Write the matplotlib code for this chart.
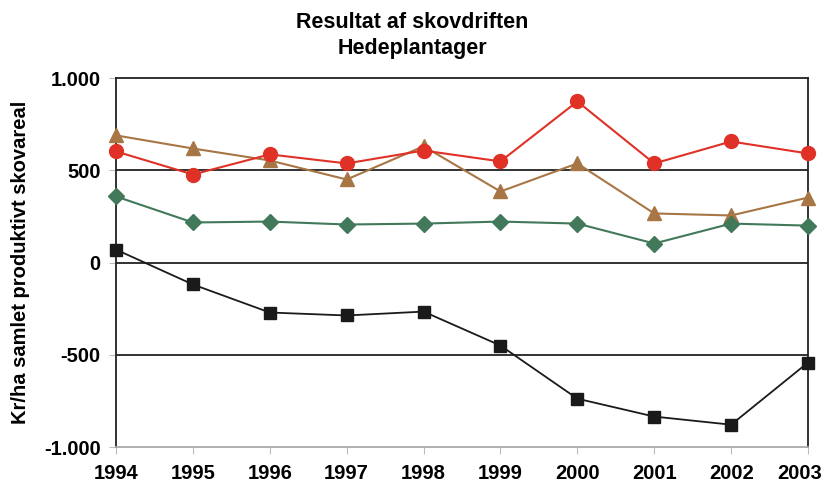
import matplotlib
matplotlib.use("Agg")
import matplotlib.pyplot as plt
import matplotlib.transforms as mtransforms
from matplotlib.ticker import FuncFormatter

years = [1994, 1995, 1996, 1997, 1998, 1999, 2000, 2001, 2002, 2003]
red_vals = [602, 477, 586, 537, 607, 548, 873, 537, 656, 591]
brown_vals = [689, 618, 553, 450, 630, 385, 537, 266, 255, 352]
green_vals = [358, 217, 222, 206, 211, 222, 211, 103, 211, 200]
black_vals = [70, -119, -271, -287, -266, -450, -738, -835, -879, -542]
yticks = [-1000, -500, 0, 500, 1000]

plt.rcParams['font.family'] = ['Liberation Sans', 'DejaVu Sans']
fig = plt.figure(figsize=(8.24, 4.87), dpi=100)
ax = fig.add_axes([0.1408, 0.0821, 0.8398, 0.7577])

for y in [-500, 0, 500]:
    ax.axhline(y, color='#222222', lw=1.3, zorder=1)

ax.plot(years, brown_vals, color='#A87545', marker='^', ms=10, lw=1.5, clip_on=False, zorder=3)
ax.plot(years, green_vals, color='#41795A', marker='D', ms=8, lw=1.5, clip_on=False, zorder=3)
ax.plot(years, red_vals, color='#E03127', marker='o', ms=10, lw=1.5, clip_on=False, zorder=4)
ax.plot(years, black_vals, color='#1A1A1A', marker='s', ms=9, lw=1.3, clip_on=False, zorder=4)

ax.set_xlim(1994, 2003)
ax.set_ylim(-1000, 1000)
ax.set_xticks(years)
ax.set_yticks(yticks)
ax.yaxis.set_major_formatter(FuncFormatter(lambda v, p: f"{int(v):,}".replace(",", ".")))
for lab in ax.get_xticklabels() + ax.get_yticklabels():
    lab.set_fontweight('bold')
    lab.set_fontsize(14.5)
ax.tick_params(axis='x', length=5, color='#BBBBBB', pad=7)
ax.tick_params(axis='y', length=5, color='#BBBBBB', pad=6)

# shift the last x label slightly left so it fits inside the figure
last = ax.get_xticklabels()[-1]
last.set_transform(last.get_transform() + mtransforms.ScaledTranslation(-8/100, 0, fig.dpi_scale_trans))

for side in ['top', 'right', 'left']:
    ax.spines[side].set_color('#222222')
    ax.spines[side].set_linewidth(1.3)
ax.spines['bottom'].set_color('#AAAAAA')
ax.spines['bottom'].set_linewidth(1.3)

ax.set_ylabel('Kr/ha samlet produktivt skovareal', fontsize=14.5, fontweight='bold', labelpad=10)
fig.text(0.5, 0.953, 'Resultat af skovdriften', ha='center', va='center', fontsize=15.5, fontweight='bold')
fig.text(0.5, 0.900, 'Hedeplantager', ha='center', va='center', fontsize=15.5, fontweight='bold')

fig.savefig('out.png', dpi=100)
